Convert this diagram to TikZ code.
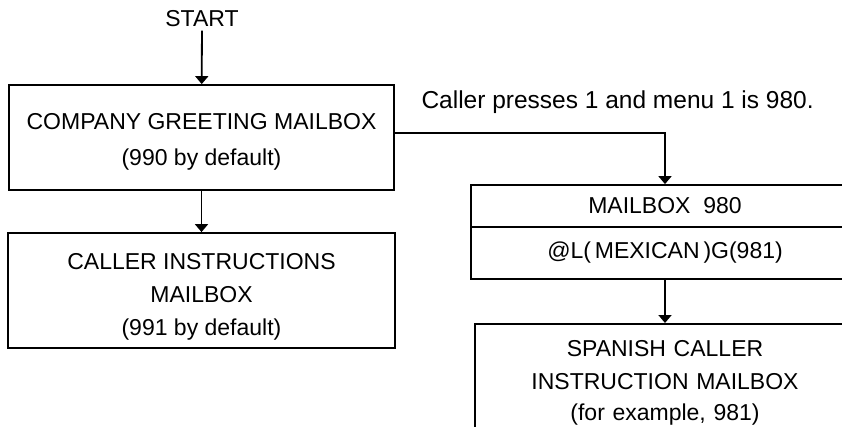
\documentclass[tikz,border=0pt]{standalone}
\usepackage{fontspec}
\setmainfont{Liberation Sans}
\usetikzlibrary{arrows.meta}
\newcommand{\topgap}[1]{\rule{0pt}{#1}}
\begin{document}
\begin{tikzpicture}[x=1pt,y=-1pt,
  every node/.style={font=\fontsize{23}{33}\selectfont},
  box/.style={draw,line width=1.8pt,align=center,inner sep=0pt},
  arr/.style={line width=1.8pt,-{Triangle[width=13pt,length=8pt]}}]
\useasboundingbox (0,0) rectangle (842,426);
\clip (0,0) rectangle (842,426);
\fill[white] (0,0) rectangle (842,426);
\node (start) at (202,19) {START};
\node[box,minimum width=385,minimum height=105] (cg) at (201.5,137.5)
  {\topgap{24pt}COMPANY GREETING MAILBOX\\[3pt](990 by default)};
\node[box,minimum width=387,minimum height=115] (ci) at (201.5,290.5)
  {\topgap{29pt}CALLER INSTRUCTIONS\\MAILBOX\\(991 by default)};
\node[anchor=west,font=\fontsize{24.5}{30}\selectfont] (lbl) at (418,102)
  {Caller presses 1 and menu 1 is 980.};
\node[box,minimum width=388,minimum height=42] (mb) at (665,206)
  {MAILBOX\ \ 980};
\node[box,minimum width=388,minimum height=52,anchor=north] (mg) at ([yshift=1.8pt]mb.south)
  {@L(\,MEXICAN\,)G(981)};
\node[box,anchor=north,text width=380,inner ysep=10pt] (sp) at (665,323)
  {\topgap{23pt}SPANISH CALLER\\INSTRUCTION MAILBOX\\[-2pt](for example, 981)\\[30pt]};
\coordinate (turn) at (665,133);
\draw[arr] (start) -- (cg);
\draw[arr] (cg) -- (ci);
\draw[arr] (cg.east |- turn) -- (turn) -- (mb.north);
\draw[arr] (mg) -- (sp);
\end{tikzpicture}
\end{document}
